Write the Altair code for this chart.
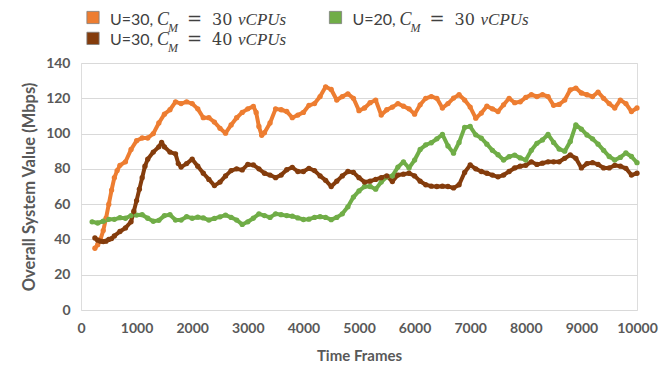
import altair as alt
import pandas as pd

# ---------------- data ----------------
t_orange = [250, 300, 350, 400, 450, 500, 550, 600, 650, 700, 800, 900, 1000, 1100, 1200, 1300, 1400, 1500,
            1600, 1700, 1800, 1900, 2000, 2100, 2200, 2300, 2400, 2500, 2600, 2700, 2800, 2900, 3000, 3100,
            3150, 3200, 3250, 3300, 3400, 3500, 3600, 3700, 3800, 3900, 4000, 4100, 4200, 4300, 4400, 4500,
            4600, 4700, 4800, 4900, 5000, 5100, 5200, 5300, 5400, 5500, 5600, 5700, 5800, 5900, 6000, 6100,
            6200, 6300, 6400, 6500, 6600, 6700, 6800, 6900, 7000, 7100, 7200, 7300, 7400, 7500, 7600, 7700,
            7800, 7900, 8000, 8100, 8200, 8300, 8400, 8500, 8600, 8700, 8800, 8900, 9000, 9100, 9200, 9300,
            9400, 9500, 9600, 9700, 9800, 9900, 10000]
v_orange = [35, 37, 40, 45, 52, 60, 68, 75, 79, 82, 84, 91, 96, 97.5, 97.5, 100, 106, 111,
            113.5, 118, 117, 118, 117, 114, 109, 109, 106.5, 103, 100.2, 104.9, 109, 112, 114, 115.4,
            112, 104, 99, 100.5, 106, 114, 113.5, 112.5, 109, 110.5, 112, 116, 117, 121, 126.5, 125,
            119, 121, 122.5, 120, 113, 114.5, 117.5, 119, 110.5, 113.5, 115, 117, 115.5, 114, 111, 116.3,
            120, 121, 120, 114.5, 117, 120.1, 122, 119, 115, 108.7, 111.6, 115.5, 114, 112.5, 116.3, 120,
            117.5, 118, 120.5, 122, 121, 122, 121, 116, 116.5, 119, 124.8, 125.8, 123, 122, 121, 123.5,
            120, 117, 114.5, 119, 117, 112.5, 114.5]

t_brown = [250, 300, 350, 400, 450, 500, 550, 600, 700, 800, 900, 950, 1000, 1050, 1100, 1150, 1200, 1300,
           1400, 1450, 1500, 1600, 1700, 1750, 1800, 1900, 2000, 2100, 2200, 2300, 2400, 2500, 2600, 2700,
           2800, 2900, 3000, 3100, 3200, 3300, 3400, 3500, 3600, 3700, 3800, 3900, 4000, 4100, 4200, 4300,
           4400, 4500, 4600, 4700, 4800, 4900, 5000, 5100, 5200, 5300, 5400, 5500, 5600, 5700, 5800, 5900,
           6000, 6100, 6200, 6300, 6400, 6500, 6600, 6700, 6800, 6900, 7000, 7100, 7200, 7300, 7400, 7500,
           7600, 7700, 7800, 7900, 8000, 8100, 8200, 8300, 8400, 8500, 8600, 8700, 8800, 8900, 9000, 9100,
           9200, 9300, 9400, 9500, 9600, 9700, 9800, 9900, 10000]
v_brown = [40.8, 39.6, 39, 38.8, 39, 40, 40.5, 42, 44.5, 46.5, 50, 56, 62, 68.5, 75, 81.5, 85.5, 89.5,
           92.5, 95, 92.5, 89.5, 88.5, 83, 81, 83, 85.5, 81.5, 77.5, 74, 70.5, 72.5, 76, 79,
           80, 79.4, 82.5, 82.2, 80, 77.5, 76.5, 75, 76.5, 79.5, 80.8, 78.5, 78.5, 80.3, 79, 76,
           73.5, 70, 73, 76, 78.5, 78, 75, 72.5, 73, 74, 75, 76, 72.8, 76.5, 77, 77.5,
           76, 73, 71, 70.2, 70, 70.2, 70, 69.2, 71, 78, 82.2, 80, 78.5, 77.5, 76.5, 75.5,
           76.5, 78.5, 80.5, 81.5, 82, 84, 82.5, 83.2, 84, 84, 84, 86, 87.9, 86, 80.5, 83,
           83.5, 82.5, 80.5, 80.5, 82, 81.5, 80.3, 76.5, 77.5]

t_green = list(range(200, 10001, 100))
v_green = [50, 49.3, 50.3, 51.4, 51.4, 52.3, 52, 53.5, 53.8, 54, 52, 50.3, 50.8, 53.5, 54, 51, 51, 52.9,
           52, 52.6, 52.2, 51, 51.9, 52.8, 53.8, 52.5, 51, 48.5, 50, 52, 54.5, 53.5, 52.5, 54.5, 54, 53.5,
           53.2, 52.2, 51.3, 51.5, 52.5, 52.9, 52.5, 51.2, 52.5, 54.5, 58.5, 64, 67.5, 70, 70, 68.5, 72.5,
           75.5, 76, 81, 84, 80.5, 85, 91, 93.6, 94.8, 97, 99.5, 93, 88.9, 95, 103.5, 104, 99.3, 97.4,
           94, 90.5, 88, 85, 86.9, 87.8, 86.2, 85, 90.5, 94.5, 96.4, 99.5, 95, 91.2, 90, 95.5, 104.9,
           102.5, 99.2, 97, 94, 90.5, 87, 85, 86.5, 89, 87, 83.5]

series_names = ["U=30, CM=30", "U=20, CM=30", "U=30, CM=40"]
series_colors = ["#ED7D31", "#70AD47", "#843C0C"]
x_ticks = list(range(0, 10001, 1000))
y_ticks = list(range(0, 141, 20))

df = pd.concat([
    pd.DataFrame({"t": t_orange, "v": v_orange, "s": series_names[0], "k": 0}),
    pd.DataFrame({"t": t_green, "v": v_green, "s": series_names[1], "k": 1}),
    pd.DataFrame({"t": t_brown, "v": v_brown, "s": series_names[2], "k": 2}),
], ignore_index=True)

# ---------------- layout ----------------
W, H = 556, 247
PL, PT = 81, 63
GRAY = "#595959"
AXF = "Lato"

xaxis = alt.Axis(values=x_ticks, format="d", title="Time Frames", grid=False, domain=False,
                 ticks=False, labelFont=AXF, labelFontWeight="bold", labelFontSize=14,
                 labelColor=GRAY, labelPadding=11, labelFlush=False, labelOverlap=False,
                 titleFont=AXF, titleFontWeight="bold", titleFontSize=15, titleColor=GRAY,
                 titleY=45, titleBaseline="middle")
yaxis = alt.Axis(values=y_ticks, title="Overall System Value (Mbps)", grid=True,
                 gridColor="#d9d9d9", gridWidth=1, domain=False, ticks=False,
                 labelFont=AXF, labelFontWeight="bold", labelFontSize=14, labelColor=GRAY,
                 labelPadding=11, labelOverlap=False,
                 titleFont=AXF, titleFontWeight="bold", titleFontSize=16.5, titleColor=GRAY,
                 titleX=-52, titleY=H / 2, titleAngle=270, titleAlign="center",
                 titleBaseline="middle")
xscale = alt.Scale(domain=[0, 10000], nice=False, zero=True)
yscale = alt.Scale(domain=[0, 140], nice=False)
xenc = alt.X("t:Q", scale=xscale, axis=xaxis)
yenc = alt.Y("v:Q", scale=yscale, axis=yaxis)
cenc = alt.Color("s:N", scale=alt.Scale(domain=series_names, range=series_colors), legend=None)

lines = alt.Chart(df).mark_line(strokeWidth=4, strokeCap="round", strokeJoin="round").encode(
    x=xenc, y=yenc, color=cenc, detail="s:N", order="t:Q")
points = alt.Chart(df).mark_circle(size=28, opacity=1).encode(
    x=xenc, y=yenc, color=cenc, order=alt.Order("k:Q"))

dummy = alt.Data(values=[{"a": 0}])


def txt(s, x, y, font, size, style="normal", color="#404040"):
    return alt.Chart(dummy).mark_text(text=s, font=font, fontSize=size, fontStyle=style, align="left",
                                      baseline="alphabetic", color=color).encode(
        x=alt.value(x - PL), y=alt.value(y - PT))


def square(x, y, color):
    return alt.Chart(dummy).mark_square(size=150, color=color, opacity=1, stroke="#7f7f7f",
                                        strokeWidth=0.8).encode(x=alt.value(x - PL), y=alt.value(y - PT))


legend_entries = [("U=30,", "30", series_colors[0], 0, 0),
                  ("U=20,", "30", series_colors[1], 242.5, 0),
                  ("U=30,", "40", series_colors[2], 0, 19.5)]
SERIF = "Liberation Serif"
legend_layers = []
for lead, cap, col, dx, dy in legend_entries:
    base = 25 + dy
    legend_layers += [
        square(93 + dx, 17.5 + dy * 1.07, col),
        txt(lead, 110 + dx, base, AXF, 16),
        txt("C", 157 + dx, base, SERIF, 18, "italic"),
        txt("M", 168 + dx, base + 7, SERIF, 12, "italic"),
        txt("=", 187 + dx, base, "DejaVu Serif", 18),
        txt(cap, 212 + dx, base, "DejaVu Serif", 16),
        txt("vCPUs", 238 + dx, base, SERIF, 17, "italic"),
    ]

chart = alt.layer(lines, points, *legend_layers).properties(
    width=W, height=H,
    autosize=alt.AutoSizeParams(type="none"),
    padding={"left": PL, "top": PT, "right": 672 - PL - W, "bottom": 370 - PT - H},
).configure_view(stroke=None).configure(background="white")

chart.save("out.html", embed_options={"renderer": "svg", "actions": False})
